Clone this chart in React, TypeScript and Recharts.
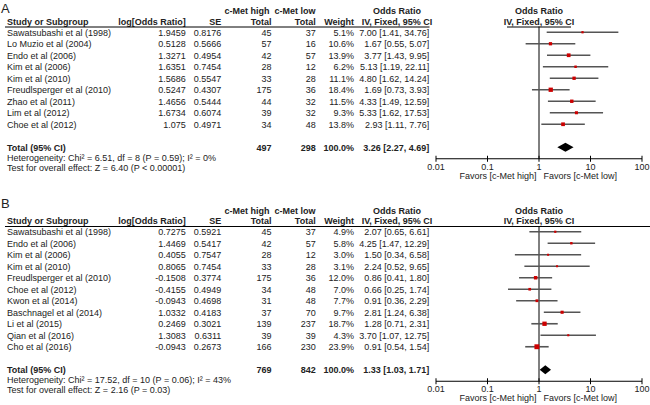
import React from 'react'
import { ScatterChart, Scatter, XAxis, YAxis, ErrorBar, ReferenceLine, ReferenceArea } from 'recharts'

const FONT = '"Liberation Sans", Arial, sans-serif'
const INK = '#222'
const ROW = 11.5

// ---- panel A ----
const studiesA = [
  'Sawatsubashi et al (1998)', 'Lo Muzio et al (2004)', 'Endo et al (2006)', 'Kim et al (2006)',
  'Kim et al (2010)', 'Freudlsperger et al (2010)', 'Zhao et al (2011)', 'Lim et al (2012)', 'Choe et al (2012)',
]
const logOrA = [1.9459, 0.5128, 1.3271, 1.6351, 1.5686, 0.5247, 1.4656, 1.6734, 1.075]
const seA = [0.8176, 0.5666, 0.4954, 0.7454, 0.5547, 0.4307, 0.5444, 0.6074, 0.4971]
const highA = [45, 57, 42, 28, 33, 175, 44, 39, 34]
const lowA = [37, 16, 57, 12, 28, 36, 32, 32, 48]
const weightA = [5.1, 10.6, 13.9, 6.2, 11.1, 18.4, 11.5, 9.3, 13.8]
const orA = [7.0, 1.67, 3.77, 5.13, 4.8, 1.69, 4.33, 5.33, 2.93]
const loA = [1.41, 0.55, 1.43, 1.19, 1.62, 0.73, 1.49, 1.62, 1.11]
const hiA = [34.76, 5.07, 9.95, 22.11, 14.24, 3.93, 12.59, 17.53, 7.76]
const totalNA = [497, 298]
const totalCiA = [3.26, 2.27, 4.69]
const hetA = 'Heterogeneity: Chi² = 6.51, df = 8 (P = 0.59); I² = 0%'
const testA = 'Test for overall effect: Z = 6.40 (P < 0.00001)'

// ---- panel B ----
const studiesB = [
  'Sawatsubashi et al (1998)', 'Endo et al (2006)', 'Kim et al (2006)', 'Kim et al (2010)',
  'Freudlsperger et al (2010)', 'Choe et al (2012)', 'Kwon et al (2014)', 'Baschnagel et al (2014)',
  'Li et al (2015)', 'Qian et al (2016)', 'Cho et al (2016)',
]
const logOrB = [0.7275, 1.4469, 0.4055, 0.8065, -0.1508, -0.4155, -0.0943, 1.0332, 0.2469, 1.3083, -0.0943]
const seB = [0.5921, 0.5417, 0.7547, 0.7454, 0.3774, 0.4949, 0.4698, 0.4183, 0.3021, 0.6311, 0.2673]
const highB = [45, 42, 28, 33, 175, 34, 31, 37, 139, 39, 166]
const lowB = [37, 57, 12, 28, 36, 48, 48, 70, 237, 39, 230]
const weightB = [4.9, 5.8, 3.0, 3.1, 12.0, 7.0, 7.7, 9.7, 18.7, 4.3, 23.9]
const orB = [2.07, 4.25, 1.5, 2.24, 0.86, 0.66, 0.91, 2.81, 1.28, 3.7, 0.91]
const loB = [0.65, 1.47, 0.34, 0.52, 0.41, 0.25, 0.36, 1.24, 0.71, 1.07, 0.54]
const hiB = [6.61, 12.29, 6.58, 9.65, 1.8, 1.74, 2.29, 6.38, 2.31, 12.75, 1.54]
const totalNB = [769, 842]
const totalCiB = [1.33, 1.03, 1.71]
const hetB = 'Heterogeneity: Chi² = 17.52, df = 10 (P = 0.06); I² = 43%'
const testB = 'Test for overall effect: Z = 2.16 (P = 0.03)'

const xTicks = [0.01, 0.1, 1, 10, 100]

const panels = [
  {
    letter: 'A', studies: studiesA, logOr: logOrA, se: seA, high: highA, low: lowA, weight: weightA,
    or: orA, lo: loA, hi: hiA, totalN: totalNA, totalCi: totalCiA, het: hetA, test: testA,
    top: 0, height: 190, plotTop: 26.5, letterY: 12.5, fullRule: false,
  },
  {
    letter: 'B', studies: studiesB, logOr: logOrB, se: seB, high: highB, low: lowB, weight: weightB,
    or: orB, lo: loB, hi: hiB, totalN: totalNB, totalCi: totalCiB, het: hetB, test: testB,
    top: 195, height: 210, plotTop: 226, letterY: 208, fullRule: true,
  },
]

const COL = { name: 7, logOr: 185.7, se: 221.3, high: 271.5, low: 315.7, weight: 354, ci: 429.3, plot: 539 }
const fmtCi = (o: number, l: number, h: number) => `${o.toFixed(2)} [${l.toFixed(2)}, ${h.toFixed(2)}]`

function T({ x, y, anchor = 'start', bold = false, size = 9, children }: any) {
  return (
    <text x={x} y={y} textAnchor={anchor} fontFamily={FONT} fontSize={size} fontWeight={bold ? 'bold' : 'normal'} fill={INK}>
      {children}
    </text>
  )
}

function RowTick({ y, payload, p }: any) {
  const i = payload.value
  const b = y + 3.3
  if (i === p.studies.length + 1) {
    return (
      <g>
        <T x={COL.name} y={b} bold>Total (95% CI)</T>
        <T x={COL.high} y={b} anchor="end" bold>{p.totalN[0]}</T>
        <T x={COL.low} y={b} anchor="end" bold>{p.totalN[1]}</T>
        <T x={COL.weight} y={b} anchor="end" bold>100.0%</T>
        <T x={COL.ci} y={b} anchor="end" bold>{fmtCi(p.totalCi[0], p.totalCi[1], p.totalCi[2])}</T>
      </g>
    )
  }
  if (i < 0 || i >= p.studies.length) return <g />
  return (
    <g>
      <T x={COL.name} y={b}>{p.studies[i]}</T>
      <T x={COL.logOr} y={b} anchor="end">{String(p.logOr[i])}</T>
      <T x={COL.se} y={b} anchor="end">{p.se[i].toFixed(4)}</T>
      <T x={COL.high} y={b} anchor="end">{p.high[i]}</T>
      <T x={COL.low} y={b} anchor="end">{p.low[i]}</T>
      <T x={COL.weight} y={b} anchor="end">{p.weight[i].toFixed(1)}%</T>
      <T x={COL.ci} y={b} anchor="end">{fmtCi(p.or[i], p.lo[i], p.hi[i])}</T>
    </g>
  )
}

function AxisTick({ x, y, payload }: any) {
  return (
    <g>
      <line x1={x} x2={x} y1={y - 3} y2={y + 3} stroke="#000" />
      <T x={x} y={y + 11} anchor="middle">{String(payload.value)}</T>
    </g>
  )
}

const Square = (props: any) => {
  const { cx, cy, payload } = props
  const s = Math.max(2, Math.sqrt(payload.w))
  return <rect x={cx - s / 2} y={cy - s / 2} width={s} height={s} fill="#cc0000" />
}

const Diamond = ({ x, y, width, height }: any) => (
  <polygon
    points={`${x},${y + height / 2} ${x + width / 2},${y} ${x + width},${y + height / 2} ${x + width / 2},${y + height}`}
    fill="#000"
  />
)

function ForestPanel({ p }: any) {
  const totalRow = p.studies.length + 1
  const yMax = totalRow + 1
  const plotH = (yMax + 0.5) * ROW
  const marginTop = p.plotTop - p.top
  const data = p.studies.map((_: string, i: number) => ({
    x: p.or[i], y: i, w: p.weight[i], err: [p.or[i] - p.lo[i], p.hi[i] - p.or[i]],
  }))
  const rowTicks = [...p.studies.map((_: string, i: number) => i), totalRow]
  return (
    <div style={{ position: 'absolute', left: 0, top: p.top }}>
      <ScatterChart
        width={650}
        height={p.height}
        margin={{ top: marginTop, right: 8, left: 0, bottom: p.height - marginTop - plotH - 20 }}
      >
        <XAxis
          dataKey="x"
          type="number"
          scale="log"
          domain={[0.01, 100]}
          ticks={xTicks}
          allowDataOverflow
          interval={0}
          height={20}
          tickSize={0}
          tickMargin={0}
          tickLine={false}
          axisLine={{ stroke: '#000' }}
          tick={AxisTick}
        />
        <YAxis
          dataKey="y"
          type="number"
          reversed
          domain={[-0.5, yMax]}
          ticks={rowTicks}
          allowDataOverflow
          interval={0}
          width={436}
          tickLine={false}
          axisLine={false}
          tick={(props: any) => <RowTick {...props} p={p} />}
        />
        <ReferenceLine x={1} stroke="#000" strokeWidth={1} />
        <ReferenceArea
          x1={p.totalCi[1]}
          x2={p.totalCi[2]}
          y1={totalRow - 0.4}
          y2={totalRow + 0.4}
          shape={Diamond}
          ifOverflow="visible"
        />
        <Scatter data={data} shape={Square} isAnimationActive={false}>
          <ErrorBar
            dataKey={(d: any) => (d.payload ?? d).err}
            direction="x"
            width={0}
            stroke="#555"
            strokeWidth={1.6}
            isAnimationActive={false}
          />
        </Scatter>
      </ScatterChart>
    </div>
  )
}

function Overlay({ p }: any) {
  const u = p.plotTop
  const totalY = u + (p.studies.length + 1.5) * ROW
  const axisY = u + (p.studies.length + 2.5) * ROW
  return (
    <g>
      <T x={1} y={p.letterY} size={13}>{p.letter}</T>
      <T x={269.5} y={u - 12.5} anchor="end" bold>c-Met high</T>
      <T x={315.5} y={u - 12.5} anchor="end" bold>c-Met low</T>
      <T x={397} y={u - 12.5} anchor="middle" bold>Odds Ratio</T>
      <T x={COL.plot} y={u - 12.5} anchor="middle" bold>Odds Ratio</T>
      <T x={COL.name} y={u - 2} bold>Study or Subgroup</T>
      <T x={COL.logOr} y={u - 2} anchor="end" bold>log[Odds Ratio]</T>
      <T x={COL.se} y={u - 2} anchor="end" bold>SE</T>
      <T x={COL.high} y={u - 2} anchor="end" bold>Total</T>
      <T x={COL.low} y={u - 2} anchor="end" bold>Total</T>
      <T x={COL.weight} y={u - 2} anchor="end" bold>Weight</T>
      <T x={397} y={u - 2} anchor="middle" bold>IV, Fixed, 95% CI</T>
      <T x={COL.plot} y={u - 2} anchor="middle" bold>IV, Fixed, 95% CI</T>
      {p.fullRule ? (
        <line x1={5} x2={650} y1={u + 0.5} y2={u + 0.5} stroke="#000" />
      ) : (
        <g>
          <line x1={5} x2={429.5} y1={u + 0.5} y2={u + 0.5} stroke="#000" />
          <line x1={507} x2={571} y1={u + 0.5} y2={u + 0.5} stroke="#000" />
        </g>
      )}
      <T x={COL.name} y={totalY + 13.5}>{p.het}</T>
      <T x={COL.name} y={totalY + 23.5}>{p.test}</T>
      <T x={536.5} y={axisY + 20} anchor="end">Favors [c-Met high]</T>
      <T x={543.5} y={axisY + 20}>Favors [c-Met low]</T>
    </g>
  )
}

export default function App() {
  return (
    <div style={{ position: 'absolute', left: 0, top: 0, width: 650, height: 405, background: '#fff', overflow: 'hidden' }}>
      {panels.map((p) => (
        <ForestPanel key={p.letter} p={p} />
      ))}
      <svg width={650} height={405} style={{ position: 'absolute', left: 0, top: 0, pointerEvents: 'none' }}>
        {panels.map((p) => (
          <Overlay key={p.letter} p={p} />
        ))}
      </svg>
    </div>
  )
}
